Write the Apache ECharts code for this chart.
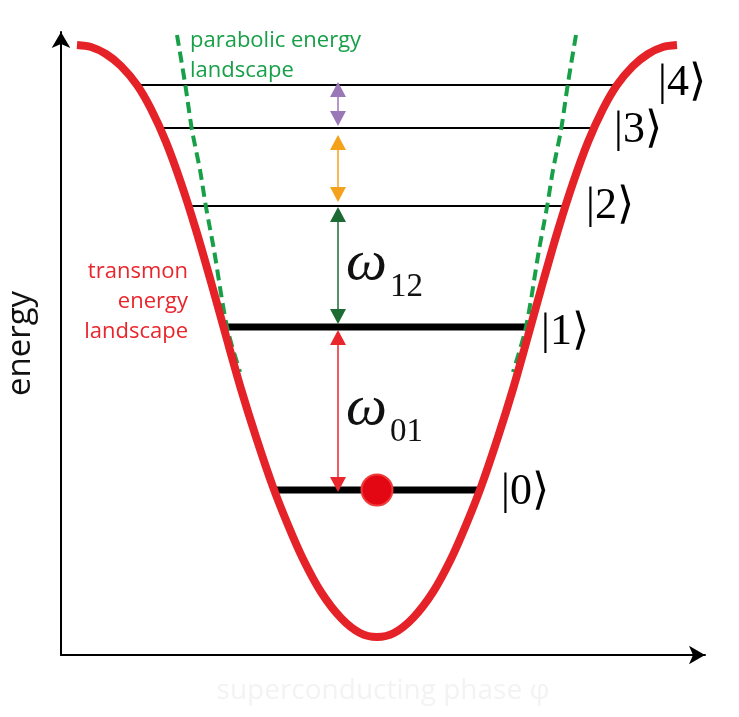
<!DOCTYPE html>
<html lang="en">
  <head>
    <meta charset="UTF-8" />
    <title>transmon energy levels</title>
    <style>
      html, body { margin: 0; padding: 0; background: #fff; }
      #main { width: 739px; height: 717px; }
    </style>
  </head>
  <body>
    <div id="main"></div>
    <script src="https://cdn.jsdelivr.net/npm/echarts@6/dist/echarts.min.js"></script>
    <script>
      // transmon potential (red)
      var curveX = [16, 30, 45, 60, 76, 90, 105, 120, 135, 150, 165, 180, 195, 212, 227, 242, 260, 280, 299, 316,
                    333, 352, 372, 390, 405, 420, 437, 452, 467, 482, 497, 512, 527, 542, 556, 572, 587, 602, 616];
      var curveY = [610, 608, 601, 589, 570, 546, 513, 472, 425, 373, 319, 266, 218, 168, 130, 96, 63, 37, 22, 18,
                    22, 37, 63, 96, 130, 168, 218, 266, 319, 373, 425, 472, 513, 546, 570, 589, 601, 608, 610];

      // harmonic approximation (green dashed), two branches
      var paraY = [620, 572, 525, 485, 448, 405, 328, 283];
      var paraLeftX = [116, 124, 131, 139, 145, 153, 166, 179];
      var paraRightX = [515, 507, 500, 492, 486, 478, 465, 452];

      // energy levels |0> .. |4>
      var levelNames = ["0", "1", "2", "3", "4"];
      var levelY = [165, 328, 449, 527, 570];
      var levelX1 = [212, 164, 129, 99, 76];
      var levelX2 = [419, 467, 502, 532, 555];

      // transition arrows (tip to tip)
      var arrowX = 277;
      var arrowFrom = [163, 331, 453, 529];
      var arrowTo = [325, 448, 520, 573];

      // where the ket labels sit
      var ketX = [464, 504, 549, 577, 621];
      var ketY = [163, 323, 449, 525, 572];

      // the particle in the ground state
      var dot = [316, 165];

      var myChart = echarts.init(document.getElementById("main"), null, { renderer: "canvas" });

      var arrowColors = ["#e8262c", "#1c6b34", "#f4a11c", "#9a78b8"];
      var levelWidths = [7, 7, 2, 2, 2];
      var headLen = 15;

      function zip(xs, ys) {
        var out = [];
        for (var i = 0; i < xs.length; i++) out.push([xs[i], ys[i]]);
        return out;
      }

      var series = [];

      // levels first so the red curve covers their ends
      levelY.forEach(function (y, i) {
        series.push({
          type: "line",
          data: [[levelX1[i], y], [levelX2[i], y]],
          symbol: "none",
          lineStyle: { color: "#000", width: levelWidths[i] },
          z: 2,
          silent: true,
        });
      });

      [paraLeftX, paraRightX].forEach(function (xs) {
        series.push({
          type: "line",
          data: zip(xs, paraY),
          symbol: "none",
          smooth: 0.3,
          lineStyle: { color: "#17a048", width: 4, type: [11, 6] },
          z: 3,
          silent: true,
        });
      });

      series.push({
        type: "line",
        data: zip(curveX, curveY),
        symbol: "none",
        smooth: 0.3,
        lineStyle: { color: "#e52228", width: 8 },
        z: 4,
        silent: true,
      });

      // arrows as mark lines; the head symbol is centred on the end point,
      // so pull the ends in by half a head (1 y unit = 1 px here)
      series.push({
        type: "line",
        data: [],
        z: 5,
        markLine: {
          silent: true,
          animation: false,
          symbol: ["triangle", "triangle"],
          symbolSize: [16, headLen],
          label: { show: false },
          data: arrowFrom.map(function (f, i) {
            return [
              { coord: [arrowX, f + headLen / 2], lineStyle: { color: arrowColors[i], width: 1.5, type: "solid" } },
              { coord: [arrowX, arrowTo[i] - headLen / 2] },
            ];
          }),
        },
      });

      series.push({
        type: "scatter",
        data: [dot],
        symbolSize: 31,
        itemStyle: { color: "#e30613", borderColor: "#ef3b3b", borderWidth: 2, opacity: 1 },
        z: 6,
        silent: true,
      });

      // ket labels
      series.push({
        type: "scatter",
        data: zip(ketX, ketY),
        symbolSize: 1,
        itemStyle: { color: "rgba(0,0,0,0)", opacity: 1 },
        silent: true,
        z: 6,
        label: {
          show: true,
          position: "inside",
          color: "#000",
          opacity: 1,
          textBorderWidth: 0,
          fontFamily: "Liberation Serif",
          fontSize: 44,
          formatter: function (p) {
            return "|" + levelNames[p.dataIndex] + "\u27E9";
          },
        },
      });

      option = {
        animation: false,
        backgroundColor: "#fff",
        grid: { left: 61, right: 34, top: 32, bottom: 62, outerBoundsMode: "none", containLabel: false },
        xAxis: {
          type: "value",
          min: 0,
          max: 644,
          axisLine: {
            show: true,
            symbol: ["none", "arrow"],
            symbolSize: [14, 16],
            lineStyle: { color: "#000", width: 2 },
          },
          axisTick: { show: false },
          axisLabel: { show: false },
          splitLine: { show: false },
          name: "superconducting phase \u03C6",
          nameLocation: "middle",
          nameGap: 22,
          nameTextStyle: { color: "#f3f3f3", fontSize: 28, fontFamily: "Open Sans" },
        },
        yAxis: {
          type: "value",
          min: 0,
          max: 623,
          axisLine: {
            show: true,
            symbol: ["none", "arrow"],
            symbolSize: [14, 16],
            lineStyle: { color: "#000", width: 2 },
          },
          axisTick: { show: false },
          axisLabel: { show: false },
          splitLine: { show: false },
          name: "energy",
          nameLocation: "middle",
          nameRotate: 90,
          nameGap: 24,
          nameTextStyle: { color: "#111", fontSize: 33, fontFamily: "Open Sans" },
        },
        graphic: [
          {
            type: "text",
            x: 190,
            y: 56,
            style: {
              text: "parabolic energy\nlandscape",
              fill: "#17a048",
              fontFamily: "Open Sans",
              fontSize: 22,
              lineHeight: 30,
              align: "left",
              verticalAlign: "middle",
            },
          },
          {
            type: "text",
            x: 188,
            y: 302,
            style: {
              text: "transmon\nenergy\nlandscape",
              fill: "#e8262c",
              fontFamily: "Open Sans",
              fontSize: 22,
              lineHeight: 30,
              align: "right",
              verticalAlign: "middle",
            },
          },
          {
            type: "text",
            x: 346,
            y: 264,
            style: { text: "\u03C9", fill: "#111", fontFamily: "Liberation Serif", fontStyle: "italic", fontSize: 58, verticalAlign: "middle" },
          },
          {
            type: "text",
            x: 390,
            y: 287,
            style: { text: "12", fill: "#111", fontFamily: "Liberation Serif", fontSize: 33, verticalAlign: "middle" },
          },
          {
            type: "text",
            x: 346,
            y: 409,
            style: { text: "\u03C9", fill: "#111", fontFamily: "Liberation Serif", fontStyle: "italic", fontSize: 58, verticalAlign: "middle" },
          },
          {
            type: "text",
            x: 390,
            y: 432,
            style: { text: "01", fill: "#111", fontFamily: "Liberation Serif", fontSize: 33, verticalAlign: "middle" },
          },
        ],
        series: series,
      };

      myChart.setOption(option);
    </script>
  </body>
</html>
